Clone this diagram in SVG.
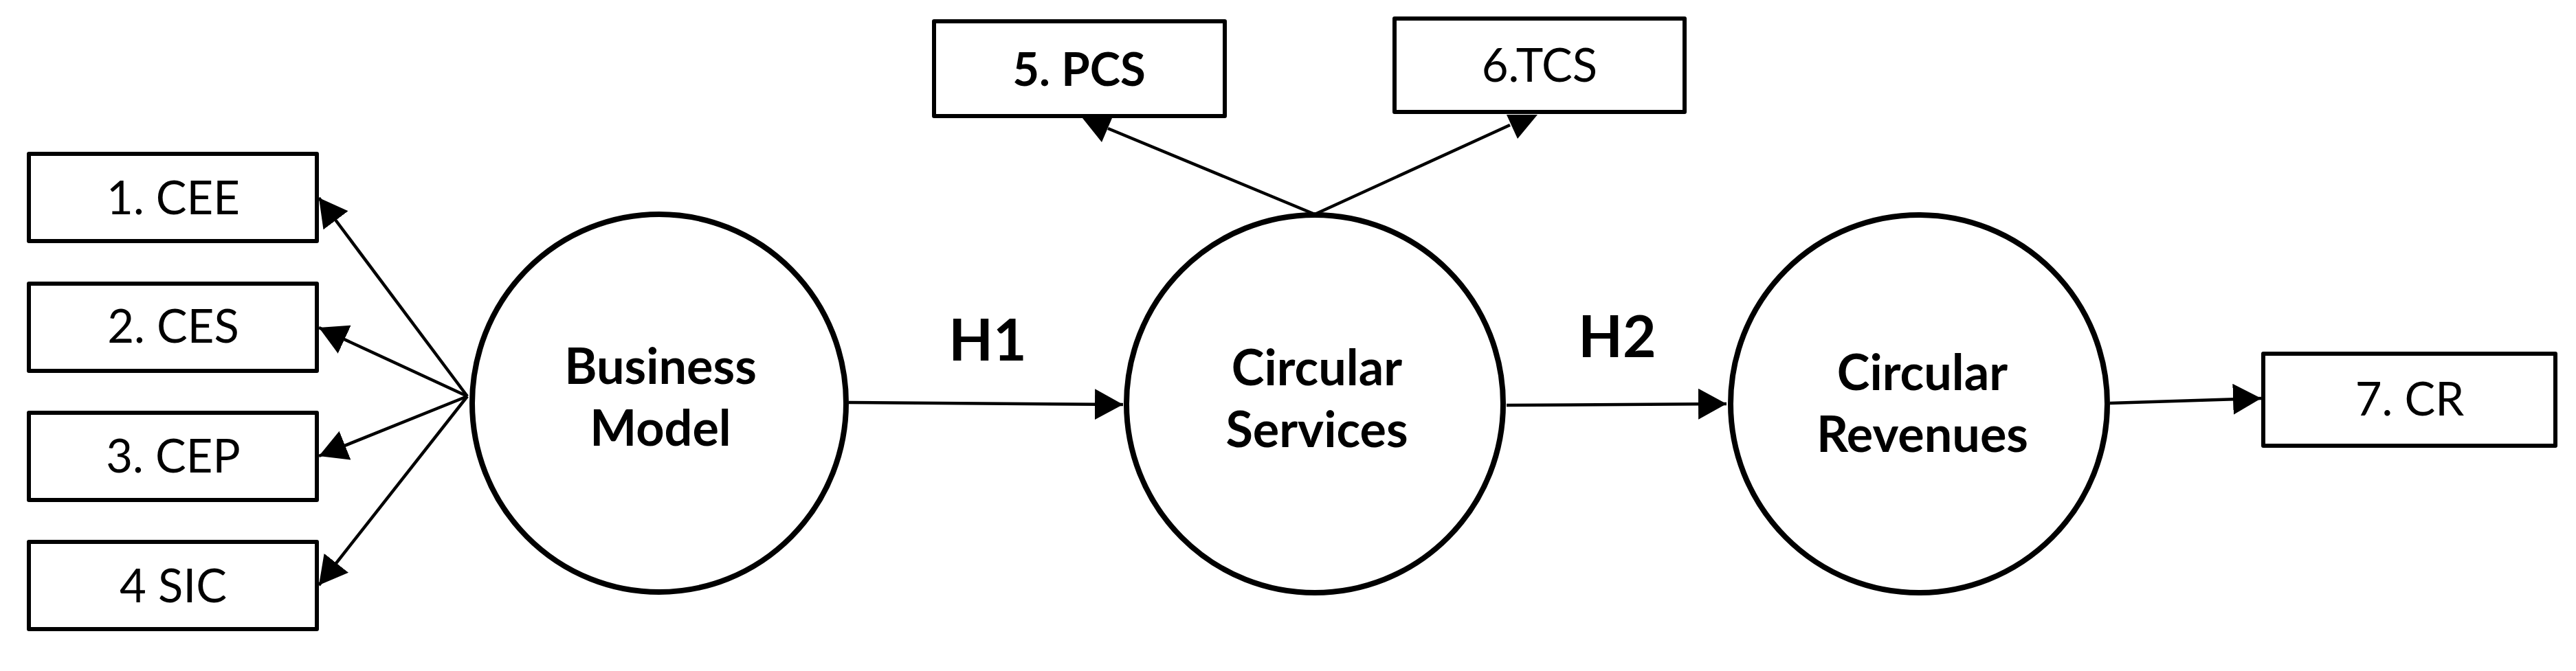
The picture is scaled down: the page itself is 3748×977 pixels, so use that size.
<svg xmlns="http://www.w3.org/2000/svg" width="3748" height="977" viewBox="0 0 3748 977">
<style>
.box{fill:#fff;stroke:#000;stroke-width:6;stroke-linejoin:round}
.ell{fill:#fff;stroke:#000;stroke-width:8}
.con{stroke:#000;stroke-width:4.5;fill:none}
.t{font-family:Lato,"Noto Sans",sans-serif;font-size:67px;fill:#000;text-anchor:middle}
.b{font-weight:bold}
.big{font-family:Lato,"Noto Sans",sans-serif;font-size:72px;font-weight:bold;fill:#000;text-anchor:middle}
.h{font-family:Lato,"Noto Sans",sans-serif;font-size:84px;font-weight:bold;fill:#000;text-anchor:middle}
</style>
<defs>
<marker id="ah" markerUnits="userSpaceOnUse" markerWidth="42" markerHeight="46" refX="41" refY="22.5" orient="auto">
<path d="M0,0 L41,22.5 L0,45 Z" fill="#000"/>
</marker>
</defs>
<rect width="3748" height="977" fill="#fff"/>
<g id="connectors">
<line class="con" x1="680" y1="577" x2="464" y2="288" marker-end="url(#ah)"/>
<line class="con" x1="680" y1="577" x2="464" y2="477" marker-end="url(#ah)"/>
<line class="con" x1="680" y1="577" x2="464" y2="664" marker-end="url(#ah)"/>
<line class="con" x1="680" y1="577" x2="464" y2="852" marker-end="url(#ah)"/>
<line class="con" x1="1235" y1="586" x2="1634" y2="589" marker-end="url(#ah)"/>
<line class="con" x1="2192" y1="590" x2="2512" y2="588" marker-end="url(#ah)"/>
<line class="con" x1="3070" y1="587" x2="3290" y2="580" marker-end="url(#ah)"/>
<line class="con" x1="1913" y1="312" x2="1612" y2="187"/>
<polygon points="1575,172 1618,172 1603,207" fill="#000"/>
<line class="con" x1="1913" y1="312" x2="2197" y2="182"/>
<polygon points="2192,167 2237,167 2208,202" fill="#000"/>
</g>
<g id="n1"><rect class="box" x="42" y="224" width="419" height="127"/><text class="t" x="252" y="312">1. CEE</text></g>
<g id="n2"><rect class="box" x="42" y="413" width="419" height="127"/><text class="t" x="252" y="499">2. CES</text></g>
<g id="n3"><rect class="box" x="42" y="601" width="419" height="127"/><text class="t" x="252" y="688">3. CEP</text></g>
<g id="n4"><rect class="box" x="42" y="789" width="419" height="127"/><text class="t" x="252" y="877">4 SIC</text></g>
<g id="n5"><rect class="box" x="1359" y="31" width="423" height="138"/><text class="t b" x="1570" y="125">5. PCS</text></g>
<g id="n6"><rect class="box" x="2029" y="27" width="422" height="136"/><text class="t" x="2240" y="119">6.TCS</text></g>
<g id="n7"><rect class="box" x="3293" y="515" width="425" height="134"/><text class="t" x="3506" y="605">7. CR</text></g>
<g id="bm"><ellipse class="ell" cx="959" cy="587" rx="272" ry="275"/><text class="big" x="961" y="559">Business</text><text class="big" x="961" y="649">Model</text></g>
<g id="cs"><ellipse class="ell" cx="1913" cy="588" rx="274" ry="275"/><text class="big" x="1916" y="561">Circular</text><text class="big" x="1916" y="651">Services</text></g>
<g id="cr"><ellipse class="ell" cx="2792" cy="588" rx="274" ry="275"/><text class="big" x="2797" y="568">Circular</text><text class="big" x="2797" y="658">Revenues</text></g>
<g id="labels"><text class="h" x="1437" y="525">H1</text><text class="h" x="2353" y="520">H2</text></g>
</svg>
